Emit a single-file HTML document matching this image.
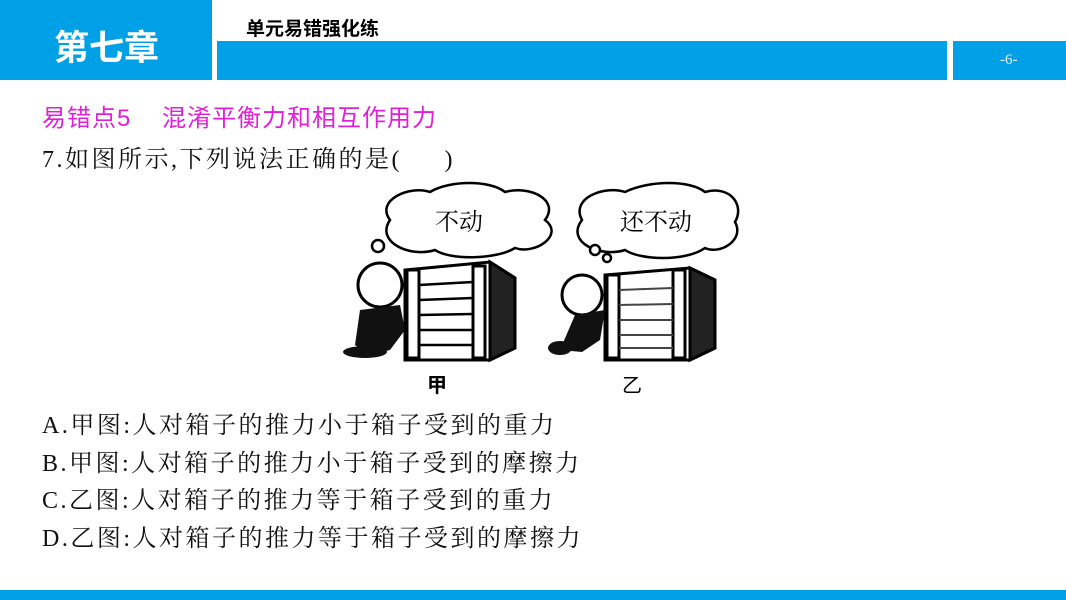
<!DOCTYPE html>
<html><head><meta charset="utf-8"><style>
body{margin:0;width:1066px;height:600px;position:relative;background:#fff;overflow:hidden;font-family:"Liberation Serif","Noto Serif CJK SC",serif}
.b{position:absolute;background:#00a0e6}
.t{position:absolute;white-space:nowrap}
</style></head><body>
<div class="b" style="left:0;top:0;width:212px;height:80px"></div>
<div class="t" style="left:54px;top:20px;font:bold 35px 'Liberation Sans','Noto Sans CJK SC',sans-serif;color:#fff;letter-spacing:0px">第七章</div>
<div class="t" style="left:246px;top:14px;font:bold 19px 'Liberation Sans','Noto Sans CJK SC',sans-serif;color:#000">单元易错强化练</div>
<div class="b" style="left:217px;top:41px;width:730px;height:39px"></div>
<div class="b" style="left:953px;top:41px;width:113px;height:39px"></div>
<div class="t" style="left:1000px;top:52px;font:15px 'Liberation Serif',serif;color:#e8f6ff">-6-</div>
<div class="t" style="left:42px;top:98px;font:24px 'Liberation Sans','Noto Sans CJK SC',sans-serif;color:#e020d8;letter-spacing:1px">易错点5&nbsp;&nbsp;&nbsp;&nbsp;混淆平衡力和相互作用力</div>
<div class="t" style="left:42px;top:139px;font:24px 'Liberation Serif','Noto Serif CJK SC',serif;color:#111;letter-spacing:2.5px">7.如图所示,下列说法正确的是(&nbsp;&nbsp;&nbsp;&nbsp;&nbsp;)</div>
<svg style="position:absolute;left:320px;top:180px" width="420" height="220" viewBox="0 0 420 220">
<g fill="#fff" stroke="#000" stroke-width="2.5">
<path d="M70,40 C55,20 90,5 110,12 C130,0 170,0 185,12 C210,5 240,20 225,40 C245,55 215,75 195,68 C175,80 130,80 115,70 C90,78 55,62 70,40Z"/>
<path d="M262,40 C250,18 285,5 305,12 C330,0 370,0 385,12 C410,5 425,25 415,42 C425,60 400,75 385,68 C365,82 320,80 305,70 C280,78 245,62 262,40Z"/>
<circle cx="58" cy="66" r="6"/><circle cx="275" cy="70" r="5"/><circle cx="287" cy="78" r="4"/>
</g>
<text x="115" y="50" font-family="'Noto Serif CJK SC',serif" font-size="24">不动</text>
<text x="300" y="50" font-family="'Noto Serif CJK SC',serif" font-size="24">还不动</text>
<g stroke="#000" stroke-width="3" fill="#fff">
<path d="M85,90 L170,82 L195,98 L195,168 L170,180 L85,180Z" fill="#fff"/>
<path d="M170,82 L195,98 L195,168 L170,180Z" fill="#222"/>
<rect x="87" y="90" width="12" height="88"/><rect x="153" y="86" width="12" height="92"/>
</g>
<g stroke="#000" stroke-width="2.5"><line x1="99" y1="105" x2="153" y2="102"/><line x1="99" y1="120" x2="153" y2="118"/><line x1="99" y1="135" x2="153" y2="134"/><line x1="99" y1="150" x2="153" y2="150"/><line x1="99" y1="165" x2="153" y2="165"/></g>
<circle cx="60" cy="105" r="22" fill="#fff" stroke="#000" stroke-width="3"/>
<path d="M40,130 L80,125 L85,150 L70,170 L50,175 L35,165Z" fill="#111"/>
<ellipse cx="45" cy="172" rx="22" ry="6" fill="#111"/>
<g stroke="#000" stroke-width="3" fill="#fff">
<path d="M285,95 L370,88 L395,100 L395,168 L370,180 L285,180Z"/>
<path d="M370,88 L395,100 L395,168 L370,180Z" fill="#222"/>
<rect x="287" y="95" width="12" height="83"/><rect x="353" y="90" width="12" height="88"/>
</g>
<g stroke="#444" stroke-width="2"><line x1="299" y1="110" x2="353" y2="108"/><line x1="299" y1="125" x2="353" y2="124"/><line x1="299" y1="140" x2="353" y2="140"/><line x1="299" y1="155" x2="353" y2="155"/><line x1="299" y1="168" x2="353" y2="168"/></g>
<circle cx="262" cy="115" r="20" fill="#fff" stroke="#000" stroke-width="3"/>
<path d="M255,135 L285,130 L280,160 L262,172 L240,170Z" fill="#111"/>
<ellipse cx="240" cy="168" rx="12" ry="7" fill="#111"/>
<text x="107" y="212" font-family="'Noto Sans CJK SC',sans-serif" font-weight="bold" font-size="20">甲</text>
<text x="302" y="212" font-family="'Noto Sans CJK SC',sans-serif" font-size="20">乙</text>
</svg>
<div class="t" style="left:42px;top:408px;font-size:24px;line-height:37.5px;color:#111;letter-spacing:2.5px">A.甲图:人对箱子的推力小于箱子受到的重力<br>B.甲图:人对箱子的推力小于箱子受到的摩擦力<br>C.乙图:人对箱子的推力等于箱子受到的重力<br>D.乙图:人对箱子的推力等于箱子受到的摩擦力</div>
<div class="b" style="left:0;top:590px;width:1066px;height:10px"></div>
</body></html>
